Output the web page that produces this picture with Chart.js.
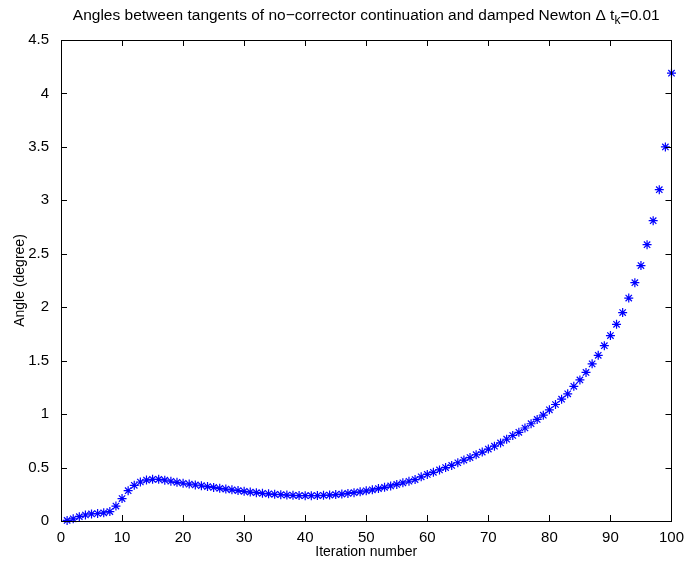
<!DOCTYPE html>
<html>
<head>
<meta charset="utf-8">
<script src="https://cdn.jsdelivr.net/npm/chart.js@4/dist/chart.umd.min.js"></script>
<style>
  html, body { margin: 0; padding: 0; background: #fff; }
  #chart { display: block; }
</style>
</head>
<body>
<canvas id="chart" width="684" height="563"></canvas>
<script>
// iteration numbers 1..100
var iterations = [];
for (var i = 1; i <= 100; i++) iterations.push(i);

// angle in degrees
var angles = [
  0.005, 0.02, 0.04, 0.056, 0.066, 0.07, 0.077, 0.088, 0.14, 0.21,
  0.284, 0.334, 0.365, 0.383, 0.39, 0.39, 0.382, 0.372, 0.362, 0.353,
  0.345, 0.337, 0.33, 0.322, 0.314, 0.306, 0.299, 0.292, 0.285, 0.278,
  0.271, 0.265, 0.259, 0.254, 0.25, 0.246, 0.243, 0.24, 0.238, 0.237,
  0.237, 0.238, 0.24, 0.243, 0.247, 0.252, 0.258, 0.265, 0.273, 0.282,
  0.292, 0.303, 0.315, 0.328, 0.342, 0.357, 0.372, 0.388, 0.413, 0.436,
  0.455, 0.478, 0.5, 0.52, 0.545, 0.57, 0.593, 0.62, 0.645, 0.673,
  0.70, 0.73, 0.765, 0.80, 0.83, 0.87, 0.91, 0.95, 0.99, 1.04,
  1.09, 1.14, 1.19, 1.26, 1.32, 1.39, 1.47, 1.55, 1.64, 1.735,
  1.84, 1.95, 2.086, 2.23, 2.39, 2.585, 2.81, 3.10, 3.50, 4.19
];

var xTicks = [0, 10, 20, 30, 40, 50, 60, 70, 80, 90, 100];
var yTicks = [0, 0.5, 1, 1.5, 2, 2.5, 3, 3.5, 4, 4.5];

var titleMain = 'Angles between tangents of no\u2212corrector continuation and damped Newton \u0394 t';
var titleSub = 'k';
var titleTail = '=0.01';

var FONT = '"Liberation Sans", Arial, Helvetica, sans-serif';

var points = [];
for (var i = 0; i < iterations.length; i++) {
  points.push({x: iterations[i], y: angles[i]});
}

// matlab style box with inward ticks + title with subscript
var matlabAxes = {
  id: 'matlabAxes',
  afterDraw: function(chart) {
    var ctx = chart.ctx;
    var a = chart.chartArea;
    var xs = chart.scales.x, ys = chart.scales.y;
    var tl = 6;
    ctx.save();
    ctx.strokeStyle = '#000';
    ctx.lineWidth = 1;
    ctx.beginPath();
    xTicks.forEach(function(v) {
      var px = Math.round(xs.getPixelForValue(v)) + 0.5;
      ctx.moveTo(px, a.bottom); ctx.lineTo(px, a.bottom - tl);
      ctx.moveTo(px, a.top); ctx.lineTo(px, a.top + tl);
    });
    yTicks.forEach(function(v) {
      var py = Math.round(ys.getPixelForValue(v)) + 0.5;
      ctx.moveTo(a.left, py); ctx.lineTo(a.left + tl, py);
      ctx.moveTo(a.right, py); ctx.lineTo(a.right - tl, py);
    });
    ctx.stroke();
    ctx.strokeRect(Math.round(a.left) + 0.5, Math.round(a.top) + 0.5,
                   Math.round(a.right - a.left), Math.round(a.bottom - a.top));

    // title
    ctx.fillStyle = '#000';
    ctx.textBaseline = 'alphabetic';
    ctx.textAlign = 'left';
    var big = '15.5px ' + FONT, small = '12px ' + FONT;
    ctx.font = big;
    var w1 = ctx.measureText(titleMain).width;
    var w3 = ctx.measureText(titleTail).width;
    ctx.font = small;
    var w2 = ctx.measureText(titleSub).width;
    var cx = (a.left + a.right) / 2;
    var x0 = cx - (w1 + w2 + w3) / 2;
    var base = 20;
    ctx.font = big;
    ctx.fillText(titleMain, x0, base);
    ctx.font = small;
    ctx.fillText(titleSub, x0 + w1, base + 4);
    ctx.font = big;
    ctx.fillText(titleTail, x0 + w1 + w2, base);
    ctx.restore();
  }
};

var ctx = document.getElementById('chart').getContext('2d');
var chart = new Chart(ctx, {
  type: 'scatter',
  data: {
    datasets: [{
      label: 'angle',
      data: points,
      showLine: false,
      pointStyle: 'star',
      pointRadius: 4.5,
      pointBorderWidth: 1.2,
      pointBorderColor: '#0000ff',
      pointBackgroundColor: '#0000ff',
      clip: false
    }]
  },
  options: {
    responsive: false,
    animation: false,
    layout: { padding: { top: 40, right: 12, left: 0, bottom: 0 } },
    plugins: {
      legend: { display: false },
      title: { display: false },
      tooltip: { enabled: false }
    },
    scales: {
      x: {
        type: 'linear',
        min: 0, max: 100,
        afterFit: function(s) { s.height = 42; },
        afterBuildTicks: function(s) { s.ticks = xTicks.map(function(v) { return {value: v}; }); },
        grid: { display: false },
        border: { display: false },
        ticks: { color: '#000', padding: 0, maxRotation: 0, font: { family: FONT, size: 15 } },
        title: { display: true, text: 'Iteration number', color: '#000', padding: { top: 0, bottom: 2 }, font: { family: FONT, size: 14 } }
      },
      y: {
        type: 'linear',
        min: 0, max: 4.5,
        afterFit: function(s) { s.width = 61; },
        afterBuildTicks: function(s) { s.ticks = yTicks.map(function(v) { return {value: v}; }); },
        grid: { display: false },
        border: { display: false },
        ticks: { color: '#000', padding: 4, font: { family: FONT, size: 15 },
                 callback: function(v) { return String(v); } },
        title: { display: true, text: 'Angle (degree)', color: '#000', padding: { top: 12, bottom: 0 }, font: { family: FONT, size: 14 } }
      }
    }
  },
  plugins: [matlabAxes]
});
</script>
</body>
</html>
